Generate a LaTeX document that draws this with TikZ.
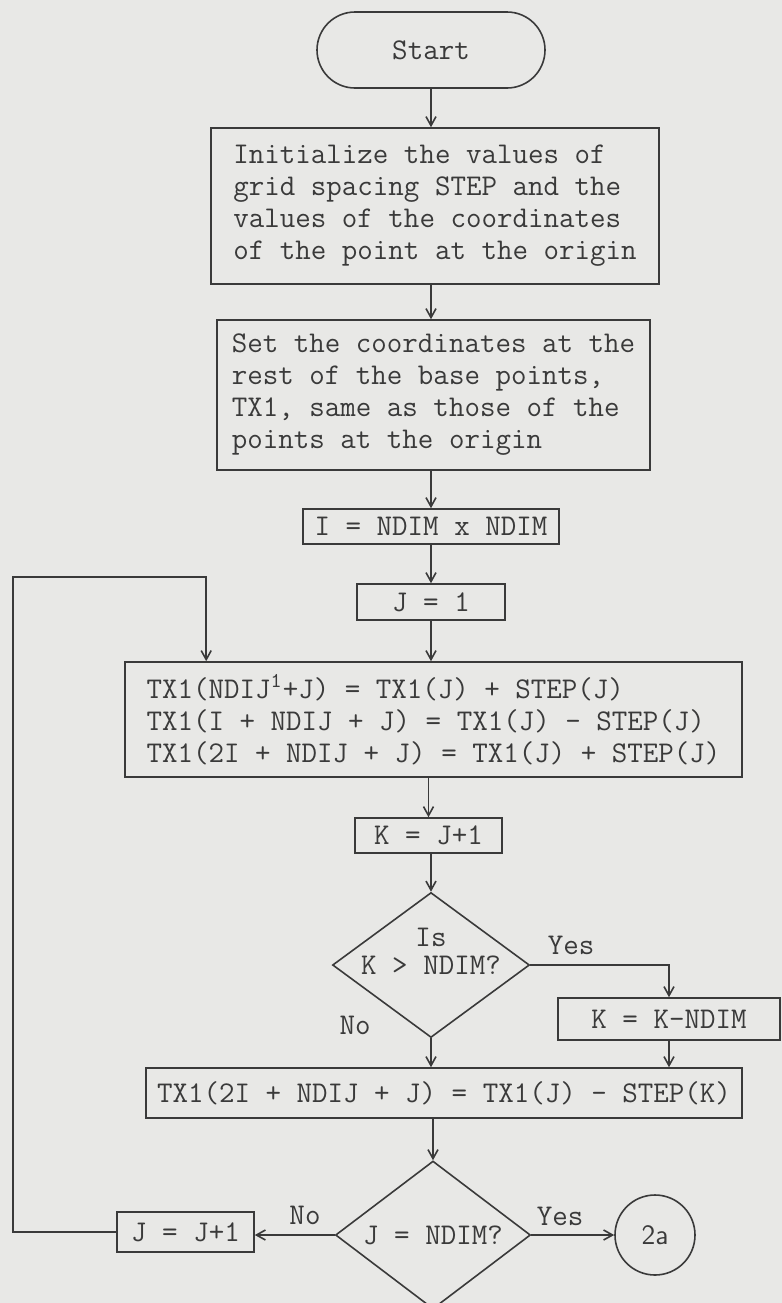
\documentclass[tikz,border=0pt]{standalone}
\usepackage{fontspec}
\usetikzlibrary{shapes.geometric,shapes.misc,arrows.meta}

\definecolor{paper}{RGB}{232,232,230}
\definecolor{ink}{RGB}{58,58,58}

\tikzset{
  termbox/.style={draw, rounded rectangle, inner sep=0pt},
  procbox/.style={draw, rectangle, align=left, inner sep=0pt},
  decbox/.style={draw, diamond, inner sep=0pt},
  connbox/.style={draw, circle, inner sep=0pt, font=\sffamily\fontsize{14}{16}\selectfont},
}

\begin{document}
\begin{tikzpicture}[x=0.5pt, y=-0.5pt, color=ink, line width=0.8pt,
    font=\ttfamily\fontsize{15.05}{16}\selectfont,
    >={Straight Barb[length=4.5pt,width=5pt]}]
    \fill[paper] (0,0) rectangle (782,1303);
    \useasboundingbox (0,0) rectangle (782,1303);

    \node[termbox, minimum width=114pt, minimum height=38pt] (start) at (431,50) {Start};

    \node[procbox, minimum width=224pt, minimum height=78pt] (init) at (435,206)
        {Initialize the values of\\grid spacing STEP and the\\values of the coordinates\\of the point at the origin};

    \node[procbox, minimum width=216.5pt, minimum height=75pt] (setbase) at (433.5,395)
        {Set the coordinates at the\\rest of the base points,\\TX1, same as those of the\\points at the origin};

    \node[procbox, minimum width=128pt, minimum height=17.5pt] (idim) at (431,526.5) {I = NDIM x NDIM};
    \node[procbox, minimum width=74pt, minimum height=18pt] (jone) at (431,602) {J = 1};

    \node[procbox, minimum width=308.5pt, minimum height=57.5pt] (txone) at (433.5,719.5)
        {TX1(NDIJ\textsuperscript{1}+J) = TX1(J) + STEP(J)\\TX1(I + NDIJ + J) = TX1(J) - STEP(J)\\TX1(2I + NDIJ + J) = TX1(J) + STEP(J)};

    \node[procbox, minimum width=73.5pt, minimum height=17.5pt] (kinc) at (428.5,835.5) {K = J+1};

    \node[decbox, minimum width=98.5pt, minimum height=72.5pt,
          label={[align=center,yshift=7pt]center:{Is\\[-2pt]K > NDIM?}}] (kchk) at (431,965) {};
    \node (kyes) at (571,945) {Yes};
    \node (kno) at (355,1025) {No};

    \node[procbox, minimum width=111pt, minimum height=21pt] (kred) at (669,1019) {K = K-NDIM};

    \node[procbox, minimum width=298pt, minimum height=25pt] (txtwo) at (444,1093)
        {TX1(2I + NDIJ + J) = TX1(J) - STEP(K)};

    \node[decbox, minimum width=97.5pt, minimum height=74pt, label=center:{J = NDIM?}] (jchk) at (433,1235) {};
    \node (jno) at (305,1215) {No};
    \node (jyes) at (560,1216) {Yes};

    \node[procbox, minimum width=68.5pt, minimum height=20pt] (jinc) at (185.5,1232) {J = J+1};
    \node[connbox, minimum size=40pt] (goto2a) at (655,1235) {2a};

    \draw[->] (start.south) -- (start.south |- init.north);
    \draw[->] (init.south -| start.south) -- (setbase.north -| start.south);
    \draw[->] (setbase.south -| idim.north) -- (idim.north);
    \draw[->] (idim.south) -- (jone.north);
    \draw[->] (jone.south) -- (jone.south |- txone.north);
    \draw[->] (txone.south -| kinc.north) -- (kinc.north);
    \draw[->] (kinc.south -| kchk.north) -- (kchk.north);
    \draw[->] (kchk.east) -| (kred.north);
    \draw[->] (kchk.south) -- (kchk.south |- txtwo.north);
    \draw[->] (kred.south) -- (kred.south |- txtwo.north);
    \draw[->] (jchk.north |- txtwo.south) -- (jchk.north);
    \draw[->] (jchk.west) -- (jchk.west -| jinc.east);
    \draw[->] (jchk.east) -- (goto2a.west);

    \coordinate (loopbot) at (13,1232);
    \coordinate (looptop) at (13,577);
    \draw[->] (jinc.west) -- (loopbot) -- (looptop) -| ([xshift=41pt]txone.north west);
\end{tikzpicture}
\end{document}
